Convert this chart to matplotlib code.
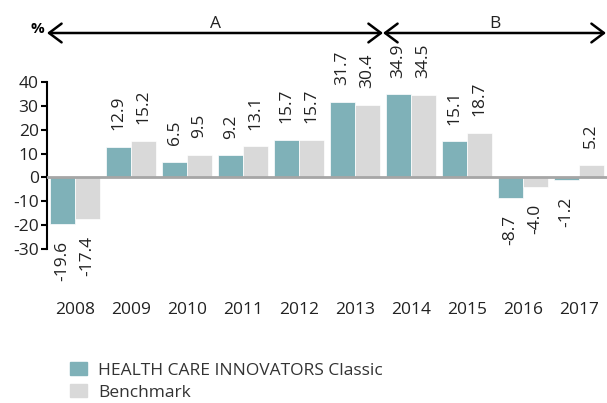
import matplotlib.pyplot as plt
import numpy as np
from matplotlib.patches import Patch, FancyArrowPatch

years = ["2008", "2009", "2010", "2011", "2012", "2013", "2014", "2015", "2016", "2017"]
fund = [-19.6, 12.9, 6.5, 9.2, 15.7, 31.7, 34.9, 15.1, -8.7, -1.2]
bench = [-17.4, 15.2, 9.5, 13.1, 15.7, 30.4, 34.5, 18.7, -4.0, 5.2]
series_names = ["HEALTH CARE INNOVATORS Classic", "Benchmark"]
periods = ["A", "B"]

plt.rcParams["font.family"] = ["Open Sans", "DejaVu Sans"]
plt.rcParams["axes.unicode_minus"] = False

teal = "#7fb1b8"
grey = "#d9d9d9"
text_col = "#222222"
fs = 12.5

fig = plt.figure(figsize=(6.07, 4.03), dpi=100)
W, H = 607, 403
ax = fig.add_axes([47 / W, 1 - 249 / H, 560 / W, (249 - 82) / H])

x = np.arange(len(years))
w = 0.44
b1 = ax.bar(x - w / 2, fund, w, color=teal, edgecolor="white", linewidth=0.5, zorder=2)
b2 = ax.bar(x + w / 2, bench, w, color=grey, edgecolor="white", linewidth=0.5, zorder=2)

for bars, vals in ((b1, fund), (b2, bench)):
    for bar, v in zip(bars, vals):
        cx = bar.get_x() + bar.get_width() / 2
        off = 12 if v >= 0 else -12
        ax.annotate(f"{v:.1f}", (cx, v), xytext=(0, off), textcoords="offset points",
                    rotation=90, ha="center", va="bottom" if v >= 0 else "top",
                    fontsize=fs, color=text_col, annotation_clip=False)

ax.axhline(0, color="#a6a6a6", lw=2, zorder=3)
ax.set_xlim(-0.5, len(years) - 0.5)
ax.set_ylim(-30, 40)
ax.set_yticks(range(-30, 41, 10))
ax.set_xticks(x)
ax.set_xticklabels(years)
ax.tick_params(axis="x", length=0, pad=38, labelsize=fs, labelcolor=text_col)
ax.tick_params(axis="y", length=4, width=1.5, direction="out", labelsize=fs,
               labelcolor=text_col, pad=2)
for s in ("top", "right", "bottom"):
    ax.spines[s].set_visible(False)
ax.spines["left"].set_linewidth(1.5)

# period arrows
ya = 1 - 33 / H
x0, xm, x1 = 47 / W, 383 / W, 606 / W
style = "<->,head_length=0.6,head_width=0.45"
for a, b in ((x0, xm), (xm, x1)):
    fig.add_artist(FancyArrowPatch((a, ya), (b, ya), transform=fig.transFigure,
                                   arrowstyle=style, lw=1.8, color="black",
                                   shrinkA=0, shrinkB=0, mutation_scale=15))
fig.text(215 / W, 1 - 24 / H, periods[0], ha="center", va="center", fontsize=fs, color=text_col)
fig.text(495 / W, 1 - 24 / H, periods[1], ha="center", va="center", fontsize=fs, color=text_col)
fig.text(37 / W, 1 - 29 / H, "%", ha="center", va="center", fontsize=11, fontweight="bold")

handles = [Patch(color=teal), Patch(color=grey)]
fig.legend(handles, series_names, loc="upper left", bbox_to_anchor=(70 / W, 1 - 362 / H),
           frameon=False, fontsize=fs, handlelength=1.0, handleheight=0.8,
           handletextpad=0.6, labelspacing=0.3, borderaxespad=0, borderpad=0,
           labelcolor="#333333")

fig.savefig("out.png", dpi=100)
